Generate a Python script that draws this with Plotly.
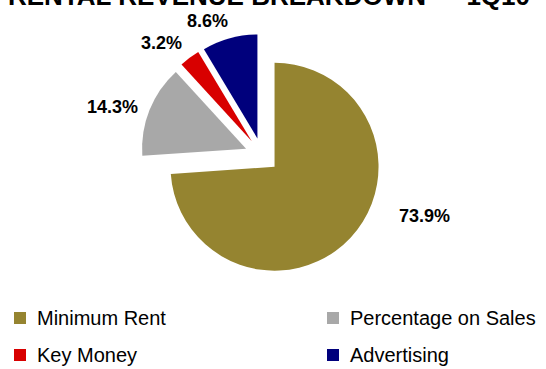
import plotly.graph_objects as go

# Rental revenue breakdown, 1Q10 (share of total, %)
categories = ["Minimum Rent", "Percentage on Sales", "Key Money", "Advertising"]
shares = [73.9, 14.3, 3.2, 8.6]
slice_colors = ["#958430", "#a8a8a8", "#d80000", "#00007c"]

W, H = 546, 369


def px(x):
    return x / W


def py(y):
    return 1 - y / H


# every slice is exploded by the same amount
pull = 0.165
cx, cy, r = 262, 155, 104
ext = r * (1 + pull)

fig = go.Figure(
    go.Pie(
        labels=categories,
        values=shares,
        sort=False,
        direction="clockwise",
        rotation=0,
        pull=[pull] * len(shares),
        marker=dict(colors=slice_colors, line=dict(width=0)),
        textinfo="none",
        showlegend=False,
        domain=dict(x=[px(cx - ext), px(cx + ext)], y=[py(cy + ext), py(cy - ext)]),
    )
)

annotations = []

# title, running off the top edge
annotations.append(dict(
    text="<b>RENTAL REVENUE BREAKDOWN — 1Q10</b>",
    x=px(269), y=py(-4), xref="paper", yref="paper",
    xanchor="center", yanchor="middle", showarrow=False,
    font=dict(family="Liberation Sans, Arial, sans-serif", size=26, color="#000000"),
))

# percentage labels next to each slice
label_pos = [(424, 216), (113, 107), (161, 43), (207, 21)]
for v, (lx, ly) in zip(shares, label_pos):
    annotations.append(dict(
        text=f"<b>{v:.1f}%</b>",
        x=px(lx), y=py(ly), xref="paper", yref="paper",
        xanchor="center", yanchor="middle", showarrow=False,
        font=dict(family="Liberation Sans, Arial, sans-serif", size=18, color="#000000"),
    ))

# two-column legend below the pie
shapes = []
legend_cols = [14, 327]
legend_rows = [318, 355]
for i, (name, col) in enumerate(zip(categories, slice_colors)):
    sx = legend_cols[i % 2]
    sy = legend_rows[i // 2]
    shapes.append(dict(
        type="rect", xref="paper", yref="paper",
        x0=px(sx), x1=px(sx + 12), y0=py(sy + 6), y1=py(sy - 6),
        fillcolor=col, line=dict(width=0),
    ))
    annotations.append(dict(
        text=name,
        x=px(sx + 21), y=py(sy), xref="paper", yref="paper",
        xanchor="left", yanchor="middle", showarrow=False,
        font=dict(family="Liberation Sans, Arial, sans-serif", size=20, color="#000000"),
    ))

fig.update_layout(
    width=W, height=H,
    margin=dict(l=0, r=0, t=0, b=0),
    paper_bgcolor="#ffffff",
    plot_bgcolor="#ffffff",
    annotations=annotations,
    shapes=shapes,
)

fig.write_html("out.html")
